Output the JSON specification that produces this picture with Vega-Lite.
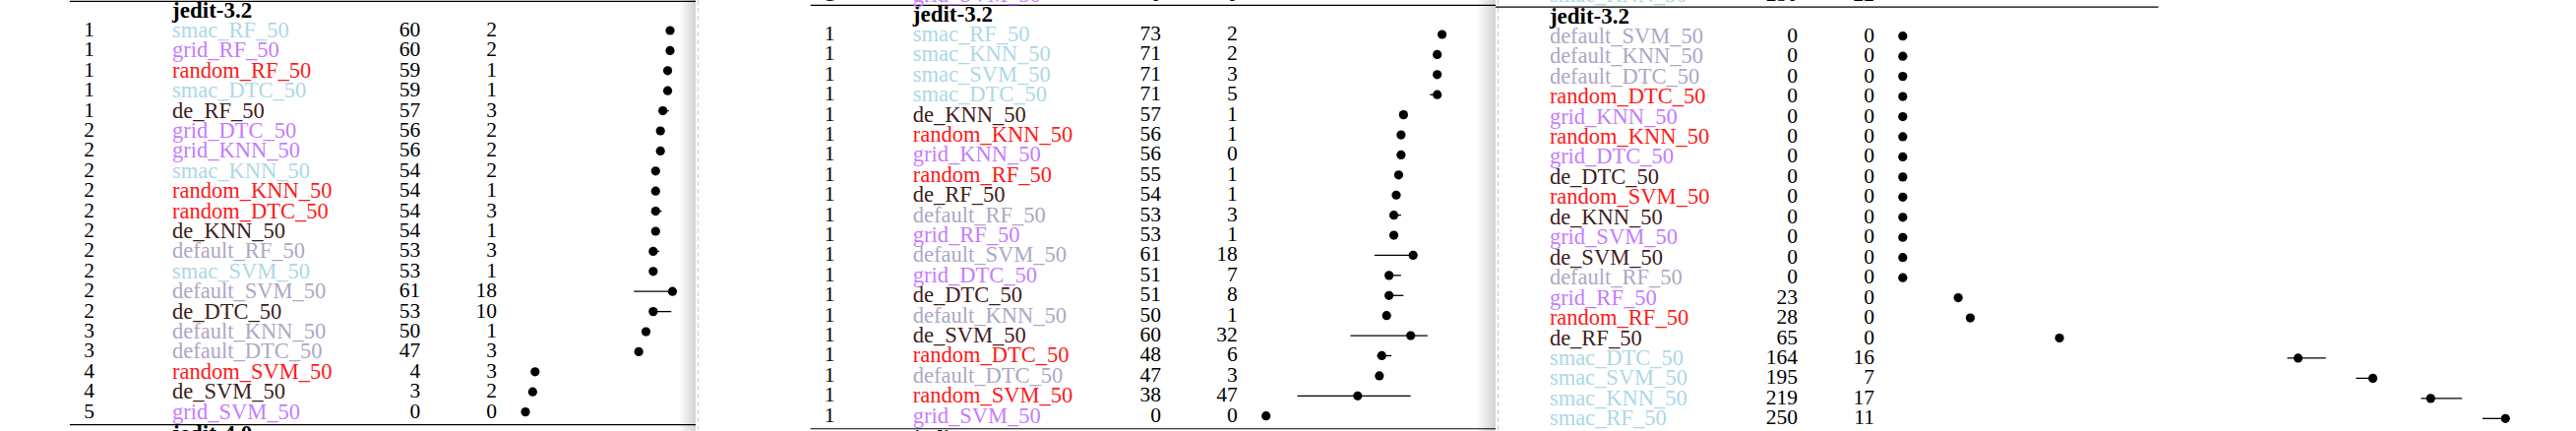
{
  "$schema": "https://vega.github.io/schema/vega-lite/v6.json",
  "background": "white",
  "padding": 0,
  "spacing": 0,
  "bounds": "flush",
  "config": {
    "view": {"stroke": null},
    "concat": {"spacing": 0},
    "text": {"font": "Liberation Serif", "fontSize": 21.5, "baseline": "middle", "color": "black"}
  },
  "datasets": {
    "p1": [
      {"i": 0, "rank": 1, "name": "smac_RF_50", "grp": "smac", "med": 60, "iqr": 2, "lo": 60, "hi": 60},
      {"i": 1, "rank": 1, "name": "grid_RF_50", "grp": "grid", "med": 60, "iqr": 2, "lo": 60, "hi": 60},
      {"i": 2, "rank": 1, "name": "random_RF_50", "grp": "random", "med": 59, "iqr": 1, "lo": 59, "hi": 59},
      {"i": 3, "rank": 1, "name": "smac_DTC_50", "grp": "smac", "med": 59, "iqr": 1, "lo": 59, "hi": 59},
      {"i": 4, "rank": 1, "name": "de_RF_50", "grp": "de", "med": 57, "iqr": 3, "lo": 57, "hi": 59.5},
      {"i": 5, "rank": 2, "name": "grid_DTC_50", "grp": "grid", "med": 56, "iqr": 2, "lo": 56, "hi": 56},
      {"i": 6, "rank": 2, "name": "grid_KNN_50", "grp": "grid", "med": 56, "iqr": 2, "lo": 56, "hi": 56},
      {"i": 7, "rank": 2, "name": "smac_KNN_50", "grp": "smac", "med": 54, "iqr": 2, "lo": 54, "hi": 54},
      {"i": 8, "rank": 2, "name": "random_KNN_50", "grp": "random", "med": 54, "iqr": 1, "lo": 54, "hi": 54},
      {"i": 9, "rank": 2, "name": "random_DTC_50", "grp": "random", "med": 54, "iqr": 3, "lo": 54, "hi": 56.5},
      {"i": 10, "rank": 2, "name": "de_KNN_50", "grp": "de", "med": 54, "iqr": 1, "lo": 54, "hi": 54},
      {"i": 11, "rank": 2, "name": "default_RF_50", "grp": "default", "med": 53, "iqr": 3, "lo": 53, "hi": 55.5},
      {"i": 12, "rank": 2, "name": "smac_SVM_50", "grp": "smac", "med": 53, "iqr": 1, "lo": 53, "hi": 53},
      {"i": 13, "rank": 2, "name": "default_SVM_50", "grp": "default", "med": 61, "iqr": 18, "lo": 45, "hi": 61},
      {"i": 14, "rank": 2, "name": "de_DTC_50", "grp": "de", "med": 53, "iqr": 10, "lo": 53, "hi": 60.5},
      {"i": 15, "rank": 3, "name": "default_KNN_50", "grp": "default", "med": 50, "iqr": 1, "lo": 50, "hi": 50},
      {"i": 16, "rank": 3, "name": "default_DTC_50", "grp": "default", "med": 47, "iqr": 3, "lo": 47, "hi": 47},
      {"i": 17, "rank": 4, "name": "random_SVM_50", "grp": "random", "med": 4, "iqr": 3, "lo": 4, "hi": 4},
      {"i": 18, "rank": 4, "name": "de_SVM_50", "grp": "de", "med": 3, "iqr": 2, "lo": 3, "hi": 3},
      {"i": 19, "rank": 5, "name": "grid_SVM_50", "grp": "grid", "med": 0, "iqr": 0, "lo": 0, "hi": 0}
    ],
    "p2": [
      {"i": 0, "rank": 1, "name": "smac_RF_50", "grp": "smac", "med": 73, "iqr": 2, "lo": 73, "hi": 73},
      {"i": 1, "rank": 1, "name": "smac_KNN_50", "grp": "smac", "med": 71, "iqr": 2, "lo": 71, "hi": 71},
      {"i": 2, "rank": 1, "name": "smac_SVM_50", "grp": "smac", "med": 71, "iqr": 3, "lo": 70, "hi": 71},
      {"i": 3, "rank": 1, "name": "smac_DTC_50", "grp": "smac", "med": 71, "iqr": 5, "lo": 68, "hi": 71},
      {"i": 4, "rank": 1, "name": "de_KNN_50", "grp": "de", "med": 57, "iqr": 1, "lo": 57, "hi": 57},
      {"i": 5, "rank": 1, "name": "random_KNN_50", "grp": "random", "med": 56, "iqr": 1, "lo": 56, "hi": 56},
      {"i": 6, "rank": 1, "name": "grid_KNN_50", "grp": "grid", "med": 56, "iqr": 0, "lo": 56, "hi": 56},
      {"i": 7, "rank": 1, "name": "random_RF_50", "grp": "random", "med": 55, "iqr": 1, "lo": 55, "hi": 55},
      {"i": 8, "rank": 1, "name": "de_RF_50", "grp": "de", "med": 54, "iqr": 1, "lo": 54, "hi": 54},
      {"i": 9, "rank": 1, "name": "default_RF_50", "grp": "default", "med": 53, "iqr": 3, "lo": 53, "hi": 56},
      {"i": 10, "rank": 1, "name": "grid_RF_50", "grp": "grid", "med": 53, "iqr": 1, "lo": 53, "hi": 53},
      {"i": 11, "rank": 1, "name": "default_SVM_50", "grp": "default", "med": 61, "iqr": 18, "lo": 45, "hi": 61},
      {"i": 12, "rank": 1, "name": "grid_DTC_50", "grp": "grid", "med": 51, "iqr": 7, "lo": 50, "hi": 56},
      {"i": 13, "rank": 1, "name": "de_DTC_50", "grp": "de", "med": 51, "iqr": 8, "lo": 50, "hi": 57},
      {"i": 14, "rank": 1, "name": "default_KNN_50", "grp": "default", "med": 50, "iqr": 1, "lo": 50, "hi": 50},
      {"i": 15, "rank": 1, "name": "de_SVM_50", "grp": "de", "med": 60, "iqr": 32, "lo": 35, "hi": 67},
      {"i": 16, "rank": 1, "name": "random_DTC_50", "grp": "random", "med": 48, "iqr": 6, "lo": 46, "hi": 52},
      {"i": 17, "rank": 1, "name": "default_DTC_50", "grp": "default", "med": 47, "iqr": 3, "lo": 47, "hi": 47},
      {"i": 18, "rank": 1, "name": "random_SVM_50", "grp": "random", "med": 38, "iqr": 47, "lo": 13, "hi": 60},
      {"i": 19, "rank": 1, "name": "grid_SVM_50", "grp": "grid", "med": 0, "iqr": 0, "lo": 0, "hi": 0}
    ],
    "p3": [
      {"i": 0, "name": "default_SVM_50", "grp": "default", "med": 0, "iqr": 0, "lo": 0, "hi": 0},
      {"i": 1, "name": "default_KNN_50", "grp": "default", "med": 0, "iqr": 0, "lo": 0, "hi": 0},
      {"i": 2, "name": "default_DTC_50", "grp": "default", "med": 0, "iqr": 0, "lo": 0, "hi": 0},
      {"i": 3, "name": "random_DTC_50", "grp": "random", "med": 0, "iqr": 0, "lo": 0, "hi": 0},
      {"i": 4, "name": "grid_KNN_50", "grp": "grid", "med": 0, "iqr": 0, "lo": 0, "hi": 0},
      {"i": 5, "name": "random_KNN_50", "grp": "random", "med": 0, "iqr": 0, "lo": 0, "hi": 0},
      {"i": 6, "name": "grid_DTC_50", "grp": "grid", "med": 0, "iqr": 0, "lo": 0, "hi": 0},
      {"i": 7, "name": "de_DTC_50", "grp": "de", "med": 0, "iqr": 0, "lo": 0, "hi": 0},
      {"i": 8, "name": "random_SVM_50", "grp": "random", "med": 0, "iqr": 0, "lo": 0, "hi": 0},
      {"i": 9, "name": "de_KNN_50", "grp": "de", "med": 0, "iqr": 0, "lo": 0, "hi": 0},
      {"i": 10, "name": "grid_SVM_50", "grp": "grid", "med": 0, "iqr": 0, "lo": 0, "hi": 0},
      {"i": 11, "name": "de_SVM_50", "grp": "de", "med": 0, "iqr": 0, "lo": 0, "hi": 0},
      {"i": 12, "name": "default_RF_50", "grp": "default", "med": 0, "iqr": 0, "lo": 0, "hi": 0},
      {"i": 13, "name": "grid_RF_50", "grp": "grid", "med": 23, "iqr": 0, "lo": 23, "hi": 23},
      {"i": 14, "name": "random_RF_50", "grp": "random", "med": 28, "iqr": 0, "lo": 28, "hi": 28},
      {"i": 15, "name": "de_RF_50", "grp": "de", "med": 65, "iqr": 0, "lo": 65, "hi": 65},
      {"i": 16, "name": "smac_DTC_50", "grp": "smac", "med": 164, "iqr": 16, "lo": 159.5, "hi": 175.5},
      {"i": 17, "name": "smac_SVM_50", "grp": "smac", "med": 195, "iqr": 7, "lo": 188, "hi": 195},
      {"i": 18, "name": "smac_KNN_50", "grp": "smac", "med": 219, "iqr": 17, "lo": 215, "hi": 232},
      {"i": 19, "name": "smac_RF_50", "grp": "smac", "med": 250, "iqr": 11, "lo": 240.5, "hi": 250}
    ],
    "prev2": [{"rank": 1, "name": "grid_SVM_50", "grp": "grid", "med": 0, "iqr": 0}],
    "prev3": [{"name": "smac_KNN_50", "grp": "smac", "med": 230, "iqr": 22}]
  },
  "hconcat": [
    {
      "width": 707, "height": 438,
      "data": {"name": "p1"},
      "layer": [
        {"data": {"values": [{}]}, "mark": {"type": "rect", "fill": {"gradient": "linear", "x1": 0, "y1": 0, "x2": 1, "y2": 0, "stops": [{"offset": 0, "color": "#ffffff"}, {"offset": 1, "color": "#d2d2d2"}]}, "clip": true},
         "encoding": {"x": {"datum": 63.7, "type": "quantitative", "scale": {"domain": [-217.96, 70.61], "nice": false, "zero": false}, "axis": null}, "x2": {"datum": 70.61},
                      "y": {"datum": -1.52, "type": "quantitative", "scale": {"domain": [-1.52, 19.95], "reverse": true, "nice": false, "zero": false}, "axis": null}, "y2": {"datum": 19.95}}},
        {"data": {"values": [{}]}, "mark": {"type": "rule", "color": "black", "strokeWidth": 1.2, "clip": true},
         "encoding": {"x": {"datum": -189, "type": "quantitative", "scale": {"domain": [-217.96, 70.61], "nice": false, "zero": false}, "axis": null}, "x2": {"datum": 106},
                      "y": {"datum": -1.45, "type": "quantitative", "scale": {"domain": [-1.52, 19.95], "reverse": true, "nice": false, "zero": false}, "axis": null}}},
        {"data": {"values": [{}]}, "mark": {"type": "rule", "color": "black", "strokeWidth": 1.2, "clip": true},
         "encoding": {"x": {"datum": -189, "type": "quantitative", "scale": {"domain": [-217.96, 70.61], "nice": false, "zero": false}, "axis": null}, "x2": {"datum": 106},
                      "y": {"datum": 19.64, "type": "quantitative", "scale": {"domain": [-1.52, 19.95], "reverse": true, "nice": false, "zero": false}, "axis": null}}},
        {"data": {"values": [{}]}, "mark": {"type": "text", "text": "jedit-3.2", "align": "left", "fontWeight": "bold", "fontSize": 23, "clip": true},
         "encoding": {"x": {"datum": -146.5, "type": "quantitative", "scale": {"domain": [-217.96, 70.61], "nice": false, "zero": false}, "axis": null},
                      "y": {"datum": -0.97, "type": "quantitative", "scale": {"domain": [-1.52, 19.95], "reverse": true, "nice": false, "zero": false}, "axis": null}}},
        {"data": {"values": [{}]}, "mark": {"type": "text", "text": "jedit-4.0", "align": "left", "fontWeight": "bold", "fontSize": 23, "clip": true},
         "encoding": {"x": {"datum": -146.5, "type": "quantitative", "scale": {"domain": [-217.96, 70.61], "nice": false, "zero": false}, "axis": null},
                      "y": {"datum": 20.12, "type": "quantitative", "scale": {"domain": [-1.52, 19.95], "reverse": true, "nice": false, "zero": false}, "axis": null}}},
        {"mark": {"type": "text", "align": "center", "clip": true},
         "encoding": {"x": {"datum": -181, "type": "quantitative", "scale": {"domain": [-217.96, 70.61], "nice": false, "zero": false}, "axis": null},
                      "y": {"field": "i", "type": "quantitative", "scale": {"domain": [-1.52, 19.95], "reverse": true, "nice": false, "zero": false}, "axis": null},
                      "text": {"field": "rank", "type": "nominal"}}},
        {"mark": {"type": "text", "align": "left", "fontSize": 22.5, "clip": true},
         "encoding": {"x": {"datum": -146.5, "type": "quantitative", "scale": {"domain": [-217.96, 70.61], "nice": false, "zero": false}, "axis": null},
                      "y": {"field": "i", "type": "quantitative", "scale": {"domain": [-1.52, 19.95], "reverse": true, "nice": false, "zero": false}, "axis": null},
                      "text": {"field": "name", "type": "nominal"},
                      "color": {"field": "grp", "type": "nominal", "scale": {"domain": ["smac", "grid", "random", "de", "default"], "range": ["#add8e6", "#c67cff", "#ff1a1a", "#3f2020", "#aca8c6"]}, "legend": null}}},
        {"mark": {"type": "text", "align": "right", "clip": true},
         "encoding": {"x": {"datum": -43.6, "type": "quantitative", "scale": {"domain": [-217.96, 70.61], "nice": false, "zero": false}, "axis": null},
                      "y": {"field": "i", "type": "quantitative", "scale": {"domain": [-1.52, 19.95], "reverse": true, "nice": false, "zero": false}, "axis": null},
                      "text": {"field": "med", "type": "nominal"}}},
        {"mark": {"type": "text", "align": "right", "clip": true},
         "encoding": {"x": {"datum": -11.8, "type": "quantitative", "scale": {"domain": [-217.96, 70.61], "nice": false, "zero": false}, "axis": null},
                      "y": {"field": "i", "type": "quantitative", "scale": {"domain": [-1.52, 19.95], "reverse": true, "nice": false, "zero": false}, "axis": null},
                      "text": {"field": "iqr", "type": "nominal"}}},
        {"mark": {"type": "rule", "color": "black", "strokeWidth": 1.3, "clip": true},
         "encoding": {"x": {"field": "lo", "type": "quantitative", "scale": {"domain": [-217.96, 70.61], "nice": false, "zero": false}, "axis": null}, "x2": {"field": "hi"},
                      "y": {"field": "i", "type": "quantitative", "scale": {"domain": [-1.52, 19.95], "reverse": true, "nice": false, "zero": false}, "axis": null}}},
        {"mark": {"type": "point", "filled": true, "color": "black", "size": 85, "opacity": 1, "clip": true},
         "encoding": {"x": {"field": "med", "type": "quantitative", "scale": {"domain": [-217.96, 70.61], "nice": false, "zero": false}, "axis": null},
                      "y": {"field": "i", "type": "quantitative", "scale": {"domain": [-1.52, 19.95], "reverse": true, "nice": false, "zero": false}, "axis": null}}}
      ]
    },
    {
      "width": 813, "height": 438,
      "data": {"name": "p2"},
      "layer": [
        {"data": {"values": [{}]}, "mark": {"type": "rect", "fill": {"gradient": "linear", "x1": 0, "y1": 0, "x2": 1, "y2": 0, "stops": [{"offset": 0, "color": "#ffffff"}, {"offset": 1, "color": "#d2d2d2"}]}, "clip": true},
         "encoding": {"x": {"datum": 87.06, "type": "quantitative", "scale": {"domain": [-236.61, 95.22], "nice": false, "zero": false}, "axis": null}, "x2": {"datum": 95.22},
                      "y": {"datum": -1.716, "type": "quantitative", "scale": {"domain": [-1.716, 19.75], "reverse": true, "nice": false, "zero": false}, "axis": null}, "y2": {"datum": 19.75}}},
        {"data": {"values": [{}]}, "mark": {"type": "rule", "color": "#c8c8c8", "strokeWidth": 1, "strokeDash": [5, 3], "clip": true},
         "encoding": {"x": {"datum": -235.7, "type": "quantitative", "scale": {"domain": [-236.61, 95.22], "nice": false, "zero": false}, "axis": null},
                      "y": {"datum": -1.716, "type": "quantitative", "scale": {"domain": [-1.716, 19.75], "reverse": true, "nice": false, "zero": false}, "axis": null}, "y2": {"datum": 19.75}}},
        {"data": {"values": [{}]}, "mark": {"type": "rule", "color": "black", "strokeWidth": 1.2, "clip": true},
         "encoding": {"x": {"datum": -189, "type": "quantitative", "scale": {"domain": [-236.61, 95.22], "nice": false, "zero": false}, "axis": null}, "x2": {"datum": 106},
                      "y": {"datum": -1.45, "type": "quantitative", "scale": {"domain": [-1.716, 19.75], "reverse": true, "nice": false, "zero": false}, "axis": null}}},
        {"data": {"values": [{}]}, "mark": {"type": "rule", "color": "black", "strokeWidth": 1.2, "clip": true},
         "encoding": {"x": {"datum": -189, "type": "quantitative", "scale": {"domain": [-236.61, 95.22], "nice": false, "zero": false}, "axis": null}, "x2": {"datum": 106},
                      "y": {"datum": 19.64, "type": "quantitative", "scale": {"domain": [-1.716, 19.75], "reverse": true, "nice": false, "zero": false}, "axis": null}}},
        {"data": {"values": [{}]}, "mark": {"type": "text", "text": "jedit-3.2", "align": "left", "fontWeight": "bold", "fontSize": 23, "clip": true},
         "encoding": {"x": {"datum": -146.5, "type": "quantitative", "scale": {"domain": [-236.61, 95.22], "nice": false, "zero": false}, "axis": null},
                      "y": {"datum": -0.97, "type": "quantitative", "scale": {"domain": [-1.716, 19.75], "reverse": true, "nice": false, "zero": false}, "axis": null}}},
        {"data": {"values": [{}]}, "mark": {"type": "text", "text": "jedit-4.0", "align": "left", "fontWeight": "bold", "fontSize": 23, "clip": true},
         "encoding": {"x": {"datum": -146.5, "type": "quantitative", "scale": {"domain": [-236.61, 95.22], "nice": false, "zero": false}, "axis": null},
                      "y": {"datum": 20.12, "type": "quantitative", "scale": {"domain": [-1.716, 19.75], "reverse": true, "nice": false, "zero": false}, "axis": null}}},
        {"data": {"name": "prev2"}, "mark": {"type": "text", "align": "center", "clip": true},
         "encoding": {"x": {"datum": -181, "type": "quantitative", "scale": {"domain": [-236.61, 95.22], "nice": false, "zero": false}, "axis": null},
                      "y": {"datum": -1.95, "type": "quantitative", "scale": {"domain": [-1.716, 19.75], "reverse": true, "nice": false, "zero": false}, "axis": null},
                      "text": {"field": "rank", "type": "nominal"}}},
        {"data": {"name": "prev2"}, "mark": {"type": "text", "align": "left", "fontSize": 22.5, "clip": true},
         "encoding": {"x": {"datum": -146.5, "type": "quantitative", "scale": {"domain": [-236.61, 95.22], "nice": false, "zero": false}, "axis": null},
                      "y": {"datum": -1.95, "type": "quantitative", "scale": {"domain": [-1.716, 19.75], "reverse": true, "nice": false, "zero": false}, "axis": null},
                      "text": {"field": "name", "type": "nominal"},
                      "color": {"field": "grp", "type": "nominal", "scale": {"domain": ["smac", "grid", "random", "de", "default"], "range": ["#add8e6", "#c67cff", "#ff1a1a", "#3f2020", "#aca8c6"]}, "legend": null}}},
        {"data": {"name": "prev2"}, "mark": {"type": "text", "align": "right", "clip": true},
         "encoding": {"x": {"datum": -43.6, "type": "quantitative", "scale": {"domain": [-236.61, 95.22], "nice": false, "zero": false}, "axis": null},
                      "y": {"datum": -1.95, "type": "quantitative", "scale": {"domain": [-1.716, 19.75], "reverse": true, "nice": false, "zero": false}, "axis": null},
                      "text": {"field": "med", "type": "nominal"}}},
        {"data": {"name": "prev2"}, "mark": {"type": "text", "align": "right", "clip": true},
         "encoding": {"x": {"datum": -11.8, "type": "quantitative", "scale": {"domain": [-236.61, 95.22], "nice": false, "zero": false}, "axis": null},
                      "y": {"datum": -1.95, "type": "quantitative", "scale": {"domain": [-1.716, 19.75], "reverse": true, "nice": false, "zero": false}, "axis": null},
                      "text": {"field": "iqr", "type": "nominal"}}},
        {"mark": {"type": "text", "align": "center", "clip": true},
         "encoding": {"x": {"datum": -181, "type": "quantitative", "scale": {"domain": [-236.61, 95.22], "nice": false, "zero": false}, "axis": null},
                      "y": {"field": "i", "type": "quantitative", "scale": {"domain": [-1.716, 19.75], "reverse": true, "nice": false, "zero": false}, "axis": null},
                      "text": {"field": "rank", "type": "nominal"}}},
        {"mark": {"type": "text", "align": "left", "fontSize": 22.5, "clip": true},
         "encoding": {"x": {"datum": -146.5, "type": "quantitative", "scale": {"domain": [-236.61, 95.22], "nice": false, "zero": false}, "axis": null},
                      "y": {"field": "i", "type": "quantitative", "scale": {"domain": [-1.716, 19.75], "reverse": true, "nice": false, "zero": false}, "axis": null},
                      "text": {"field": "name", "type": "nominal"},
                      "color": {"field": "grp", "type": "nominal", "scale": {"domain": ["smac", "grid", "random", "de", "default"], "range": ["#add8e6", "#c67cff", "#ff1a1a", "#3f2020", "#aca8c6"]}, "legend": null}}},
        {"mark": {"type": "text", "align": "right", "clip": true},
         "encoding": {"x": {"datum": -43.6, "type": "quantitative", "scale": {"domain": [-236.61, 95.22], "nice": false, "zero": false}, "axis": null},
                      "y": {"field": "i", "type": "quantitative", "scale": {"domain": [-1.716, 19.75], "reverse": true, "nice": false, "zero": false}, "axis": null},
                      "text": {"field": "med", "type": "nominal"}}},
        {"mark": {"type": "text", "align": "right", "clip": true},
         "encoding": {"x": {"datum": -11.8, "type": "quantitative", "scale": {"domain": [-236.61, 95.22], "nice": false, "zero": false}, "axis": null},
                      "y": {"field": "i", "type": "quantitative", "scale": {"domain": [-1.716, 19.75], "reverse": true, "nice": false, "zero": false}, "axis": null},
                      "text": {"field": "iqr", "type": "nominal"}}},
        {"mark": {"type": "rule", "color": "black", "strokeWidth": 1.3, "clip": true},
         "encoding": {"x": {"field": "lo", "type": "quantitative", "scale": {"domain": [-236.61, 95.22], "nice": false, "zero": false}, "axis": null}, "x2": {"field": "hi"},
                      "y": {"field": "i", "type": "quantitative", "scale": {"domain": [-1.716, 19.75], "reverse": true, "nice": false, "zero": false}, "axis": null}}},
        {"mark": {"type": "point", "filled": true, "color": "black", "size": 85, "opacity": 1, "clip": true},
         "encoding": {"x": {"field": "med", "type": "quantitative", "scale": {"domain": [-236.61, 95.22], "nice": false, "zero": false}, "axis": null},
                      "y": {"field": "i", "type": "quantitative", "scale": {"domain": [-1.716, 19.75], "reverse": true, "nice": false, "zero": false}, "axis": null}}}
      ]
    },
    {
      "width": 1098, "height": 438,
      "data": {"name": "p3"},
      "layer": [
        {"data": {"values": [{}]}, "mark": {"type": "rule", "color": "#c8c8c8", "strokeWidth": 1, "strokeDash": [5, 3], "clip": true},
         "encoding": {"x": {"datum": -167.9, "type": "quantitative", "scale": {"domain": [-168.9, 279.27], "nice": false, "zero": false}, "axis": null},
                      "y": {"datum": -1.795, "type": "quantitative", "scale": {"domain": [-1.795, 19.62], "reverse": true, "nice": false, "zero": false}, "axis": null}, "y2": {"datum": 19.62}}},
        {"data": {"values": [{}]}, "mark": {"type": "rule", "color": "black", "strokeWidth": 1.2, "clip": true},
         "encoding": {"x": {"datum": -189, "type": "quantitative", "scale": {"domain": [-168.9, 279.27], "nice": false, "zero": false}, "axis": null}, "x2": {"datum": 106},
                      "y": {"datum": -1.45, "type": "quantitative", "scale": {"domain": [-1.795, 19.62], "reverse": true, "nice": false, "zero": false}, "axis": null}}},
        {"data": {"values": [{}]}, "mark": {"type": "text", "text": "jedit-3.2", "align": "left", "fontWeight": "bold", "fontSize": 23, "clip": true},
         "encoding": {"x": {"datum": -146.5, "type": "quantitative", "scale": {"domain": [-168.9, 279.27], "nice": false, "zero": false}, "axis": null},
                      "y": {"datum": -0.97, "type": "quantitative", "scale": {"domain": [-1.795, 19.62], "reverse": true, "nice": false, "zero": false}, "axis": null}}},
        {"data": {"name": "prev3"}, "mark": {"type": "text", "align": "left", "fontSize": 22.5, "clip": true},
         "encoding": {"x": {"datum": -146.5, "type": "quantitative", "scale": {"domain": [-168.9, 279.27], "nice": false, "zero": false}, "axis": null},
                      "y": {"datum": -2.03, "type": "quantitative", "scale": {"domain": [-1.795, 19.62], "reverse": true, "nice": false, "zero": false}, "axis": null},
                      "text": {"field": "name", "type": "nominal"},
                      "color": {"field": "grp", "type": "nominal", "scale": {"domain": ["smac", "grid", "random", "de", "default"], "range": ["#add8e6", "#c67cff", "#ff1a1a", "#3f2020", "#aca8c6"]}, "legend": null}}},
        {"data": {"name": "prev3"}, "mark": {"type": "text", "align": "right", "clip": true},
         "encoding": {"x": {"datum": -43.6, "type": "quantitative", "scale": {"domain": [-168.9, 279.27], "nice": false, "zero": false}, "axis": null},
                      "y": {"datum": -2.03, "type": "quantitative", "scale": {"domain": [-1.795, 19.62], "reverse": true, "nice": false, "zero": false}, "axis": null},
                      "text": {"field": "med", "type": "nominal"}}},
        {"data": {"name": "prev3"}, "mark": {"type": "text", "align": "right", "clip": true},
         "encoding": {"x": {"datum": -11.8, "type": "quantitative", "scale": {"domain": [-168.9, 279.27], "nice": false, "zero": false}, "axis": null},
                      "y": {"datum": -2.03, "type": "quantitative", "scale": {"domain": [-1.795, 19.62], "reverse": true, "nice": false, "zero": false}, "axis": null},
                      "text": {"field": "iqr", "type": "nominal"}}},
        {"mark": {"type": "text", "align": "left", "fontSize": 22.5, "clip": true},
         "encoding": {"x": {"datum": -146.5, "type": "quantitative", "scale": {"domain": [-168.9, 279.27], "nice": false, "zero": false}, "axis": null},
                      "y": {"field": "i", "type": "quantitative", "scale": {"domain": [-1.795, 19.62], "reverse": true, "nice": false, "zero": false}, "axis": null},
                      "text": {"field": "name", "type": "nominal"},
                      "color": {"field": "grp", "type": "nominal", "scale": {"domain": ["smac", "grid", "random", "de", "default"], "range": ["#add8e6", "#c67cff", "#ff1a1a", "#3f2020", "#aca8c6"]}, "legend": null}}},
        {"mark": {"type": "text", "align": "right", "clip": true},
         "encoding": {"x": {"datum": -43.6, "type": "quantitative", "scale": {"domain": [-168.9, 279.27], "nice": false, "zero": false}, "axis": null},
                      "y": {"field": "i", "type": "quantitative", "scale": {"domain": [-1.795, 19.62], "reverse": true, "nice": false, "zero": false}, "axis": null},
                      "text": {"field": "med", "type": "nominal"}}},
        {"mark": {"type": "text", "align": "right", "clip": true},
         "encoding": {"x": {"datum": -11.8, "type": "quantitative", "scale": {"domain": [-168.9, 279.27], "nice": false, "zero": false}, "axis": null},
                      "y": {"field": "i", "type": "quantitative", "scale": {"domain": [-1.795, 19.62], "reverse": true, "nice": false, "zero": false}, "axis": null},
                      "text": {"field": "iqr", "type": "nominal"}}},
        {"mark": {"type": "rule", "color": "black", "strokeWidth": 1.3, "clip": true},
         "encoding": {"x": {"field": "lo", "type": "quantitative", "scale": {"domain": [-168.9, 279.27], "nice": false, "zero": false}, "axis": null}, "x2": {"field": "hi"},
                      "y": {"field": "i", "type": "quantitative", "scale": {"domain": [-1.795, 19.62], "reverse": true, "nice": false, "zero": false}, "axis": null}}},
        {"mark": {"type": "point", "filled": true, "color": "black", "size": 85, "opacity": 1, "clip": true},
         "encoding": {"x": {"field": "med", "type": "quantitative", "scale": {"domain": [-168.9, 279.27], "nice": false, "zero": false}, "axis": null},
                      "y": {"field": "i", "type": "quantitative", "scale": {"domain": [-1.795, 19.62], "reverse": true, "nice": false, "zero": false}, "axis": null}}}
      ]
    }
  ]
}
